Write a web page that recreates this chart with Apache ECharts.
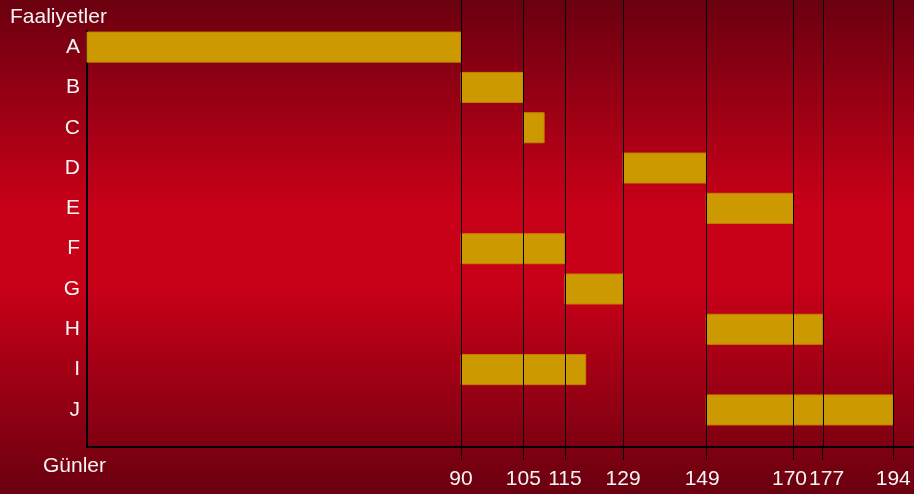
<!DOCTYPE html>
<html>
<head>
<meta charset="utf-8">
<script src="https://cdn.jsdelivr.net/npm/echarts@6/dist/echarts.min.js"></script>
<style>
  html, body { margin: 0; padding: 0; }
  #chart { width: 914px; height: 494px; }
</style>
</head>
<body>
<div id="chart"></div>
<script>
// Activities (top to bottom) with start and finish day of each task
const categories = ['A', 'B', 'C', 'D', 'E', 'F', 'G', 'H', 'I', 'J'];
const startDays = [0, 90, 105, 129, 149, 90, 115, 149, 90, 149];
const endDays = [90, 105, 110, 149, 170, 115, 129, 177, 120, 194];
// Milestone days marked on the time axis
const dayTicks = [90, 105, 115, 129, 149, 170, 177, 194];

const FONT = '"Liberation Sans", Arial, sans-serif';
const TEXT = '#f4f4f4';

const taskData = categories.map((c, i) => [startDays[i], endDays[i], i]);

// nudge crowded day labels apart a little
const labelStyleFor = { 149: 'l', 170: 'l', 177: 'r' };

const chart = echarts.init(document.getElementById('chart'));

chart.setOption({
  animation: false,
  backgroundColor: {
    type: 'linear', x: 0, y: 0, x2: 0, y2: 1,
    colorStops: [
      { offset: 0, color: '#6a000f' },
      { offset: 0.42, color: '#c80018' },
      { offset: 0.58, color: '#c80018' },
      { offset: 1, color: '#6a000f' }
    ]
  },
  grid: { left: 87, right: 0, top: 31, height: 416, containLabel: false },
  xAxis: {
    type: 'value',
    min: 0,
    max: 199,
    axisLine: { show: true, onZero: false, lineStyle: { color: '#000', width: 2 } },
    axisTick: {
      show: true, customValues: dayTicks, length: 13,
      lineStyle: { color: '#000', width: 1 }
    },
    axisLabel: {
      customValues: dayTicks, margin: 22,
      color: TEXT, fontSize: 21, fontFamily: FONT,
      formatter: v => labelStyleFor[v] ? '{' + labelStyleFor[v] + '|' + v + '}' : String(v),
      rich: {
        l: { padding: [0, 8, 0, 0], color: TEXT, fontSize: 21, fontFamily: FONT },
        r: { padding: [0, 0, 0, 8], color: TEXT, fontSize: 21, fontFamily: FONT }
      }
    },
    splitLine: { show: false }
  },
  yAxis: {
    type: 'value',
    inverse: true,
    min: -0.4,
    max: 9.92,
    axisLine: { show: true, onZero: false, lineStyle: { color: '#000', width: 2 } },
    axisTick: { show: false },
    axisLabel: {
      customValues: categories.map((c, i) => i),
      formatter: v => categories[Math.round(v)],
      margin: 7,
      color: TEXT, fontSize: 21, fontFamily: FONT
    },
    splitLine: { show: false }
  },
  graphic: [
    { type: 'text', left: 10, top: 7,
      style: { text: 'Faaliyetler', fill: TEXT, fontSize: 21, fontFamily: FONT } },
    { type: 'text', left: 43, top: 456,
      style: { text: 'Günler', fill: TEXT, fontSize: 21, fontFamily: FONT } }
  ],
  series: [
    {
      // task bars from start day to finish day
      type: 'custom',
      name: 'tasks',
      data: taskData,
      encode: { x: [0, 1], y: 2 },
      renderItem: function (params, api) {
        const p0 = api.coord([api.value(0), api.value(2)]);
        const p1 = api.coord([api.value(1), api.value(2)]);
        const h = api.size([0, 1])[1] * 0.745;
        return {
          type: 'rect',
          shape: { x: p0[0], y: p0[1] - h / 2, width: p1[0] - p0[0], height: h },
          style: { fill: '#cc9900', stroke: '#c28000', lineWidth: 1 }
        };
      },
      z: 2
    },
    {
      // milestone lines drawn over the bars
      type: 'custom',
      name: 'milestones',
      data: dayTicks.map(d => [d]),
      encode: { x: 0 },
      clip: false,
      silent: true,
      renderItem: function (params, api) {
        const x = Math.round(api.coord([api.value(0), 0])[0]);
        const bottom = params.coordSys.y + params.coordSys.height;
        return {
          type: 'rect',
          shape: { x: x, y: 0, width: 1, height: bottom },
          style: { fill: '#000', stroke: null }
        };
      },
      z: 3
    }
  ]
});
</script>
</body>
</html>
